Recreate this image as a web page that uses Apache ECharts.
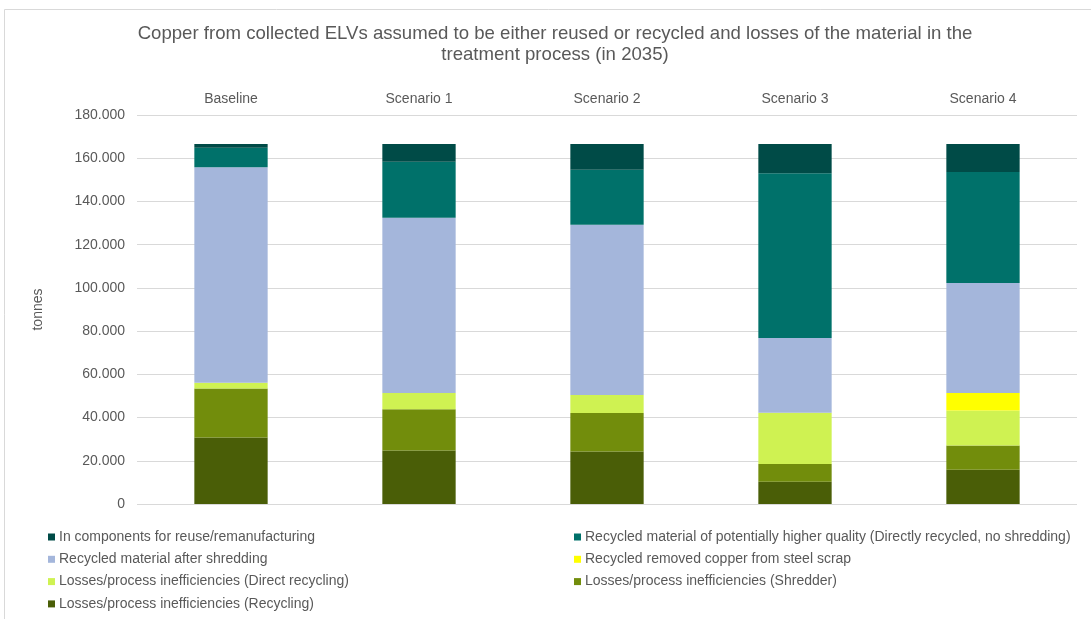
<!DOCTYPE html>
<html>
<head>
<meta charset="utf-8">
<script src="https://cdn.jsdelivr.net/npm/echarts@6/dist/echarts.min.js"></script>
<style>
  html, body { margin: 0; padding: 0; background: #fff; }
  #chart { width: 1091px; height: 619px; }
</style>
</head>
<body>
<div id="chart"></div>
<script>
// categories along the top
var scenarios = ['Baseline', 'Scenario 1', 'Scenario 2', 'Scenario 3', 'Scenario 4'];

// tonnes (stack order bottom -> top)
var lossRecycling   = [30800, 24800, 24300, 10300, 15900];
var lossShredder    = [22700, 19000, 17800,  8200, 11200];
var lossDirect      = [ 2600,  7600,  8300, 23700, 16200];
var steelScrap      = [    0,     0,     0,     0,  8100];
var afterShredding  = [99700, 81100, 78800, 34600, 50900];
var higherQuality   = [ 9100, 25900, 25500, 76200, 51300];
var reuseComponents = [ 1700,  8200, 11900, 13600, 13000];

var yTicks = { min: 0, max: 180000, interval: 20000 };

var names = {
  reuse: 'In components for reuse/remanufacturing',
  hq: 'Recycled material of potentially higher quality (Directly recycled, no shredding)',
  shred: 'Recycled material after shredding',
  steel: 'Recycled removed copper from steel scrap',
  lossDirect: 'Losses/process inefficiencies (Direct recycling)',
  lossShred: 'Losses/process inefficiencies (Shredder)',
  lossRec: 'Losses/process inefficiencies (Recycling)'
};

var colors = {
  reuse: '#004b47',
  hq: '#00716a',
  shred: '#a4b6db',
  steel: '#ffff00',
  lossDirect: '#cff252',
  lossShred: '#728d0c',
  lossRec: '#4a5e07'
};

function fmt(v) {
  // dot as thousands separator
  return String(v).replace(/\B(?=(\d{3})+(?!\d))/g, '.');
}

function bar(key, data) {
  return {
    name: names[key],
    type: 'bar',
    stack: 'total',
    barWidth: '39%',
    itemStyle: { color: colors[key] },
    emphasis: { disabled: true },
    data: data
  };
}

var Chart = echarts.init(document.getElementById('chart'));

var legendText = { color: '#595959', fontSize: 14, fontFamily: 'Liberation Sans', padding: [0, 0, 0, -1] };

var option = {
  animation: false,
  textStyle: { fontFamily: 'Liberation Sans' },
  graphic: [{
    type: 'rect',
    shape: { x: 4.5, y: 9.5, width: 1100, height: 700 },
    style: { fill: 'none', stroke: '#d9d9d9', lineWidth: 1 },
    silent: true
  }],
  title: {
    text: 'Copper from collected ELVs assumed to be either reused or recycled and losses of the material in the\ntreatment process (in 2035)',
    left: 550,
    textAlign: 'center',
    top: 18,
    textStyle: {
      color: '#595959',
      fontSize: 18.6,
      fontWeight: 'normal',
      lineHeight: 21,
      fontFamily: 'Liberation Sans'
    }
  },
  legend: [{
    orient: 'vertical',
    left: 43,
    top: 525,
    itemWidth: 7,
    itemHeight: 7,
    itemGap: 8.3,
    icon: 'rect',
    textStyle: legendText,
    data: [names.reuse, names.shred, names.lossDirect, names.lossRec]
  }, {
    orient: 'vertical',
    left: 569,
    top: 525,
    itemWidth: 7,
    itemHeight: 7,
    itemGap: 8.3,
    icon: 'rect',
    textStyle: legendText,
    data: [names.hq, names.steel, names.lossShred]
  }],
  grid: { left: 137, right: 14, top: 115, bottom: 115 },
  xAxis: {
    type: 'category',
    position: 'top',
    data: scenarios,
    axisLine: { show: false },
    axisTick: { show: false },
    axisLabel: { color: '#595959', fontSize: 14, margin: 9 }
  },
  yAxis: {
    type: 'value',
    min: yTicks.min,
    max: yTicks.max,
    interval: yTicks.interval,
    name: 'tonnes',
    nameLocation: 'middle',
    nameGap: 92,
    nameRotate: 90,
    nameTextStyle: { color: '#595959', fontSize: 14 },
    axisLabel: { color: '#595959', fontSize: 14, margin: 12, formatter: fmt },
    splitLine: { lineStyle: { color: '#d9d9d9', width: 1 } }
  },
  series: [
    bar('lossRec', lossRecycling),
    bar('lossShred', lossShredder),
    bar('lossDirect', lossDirect),
    bar('steel', steelScrap),
    bar('shred', afterShredding),
    bar('hq', higherQuality),
    bar('reuse', reuseComponents)
  ]
};

Chart.setOption(option);
</script>
</body>
</html>
